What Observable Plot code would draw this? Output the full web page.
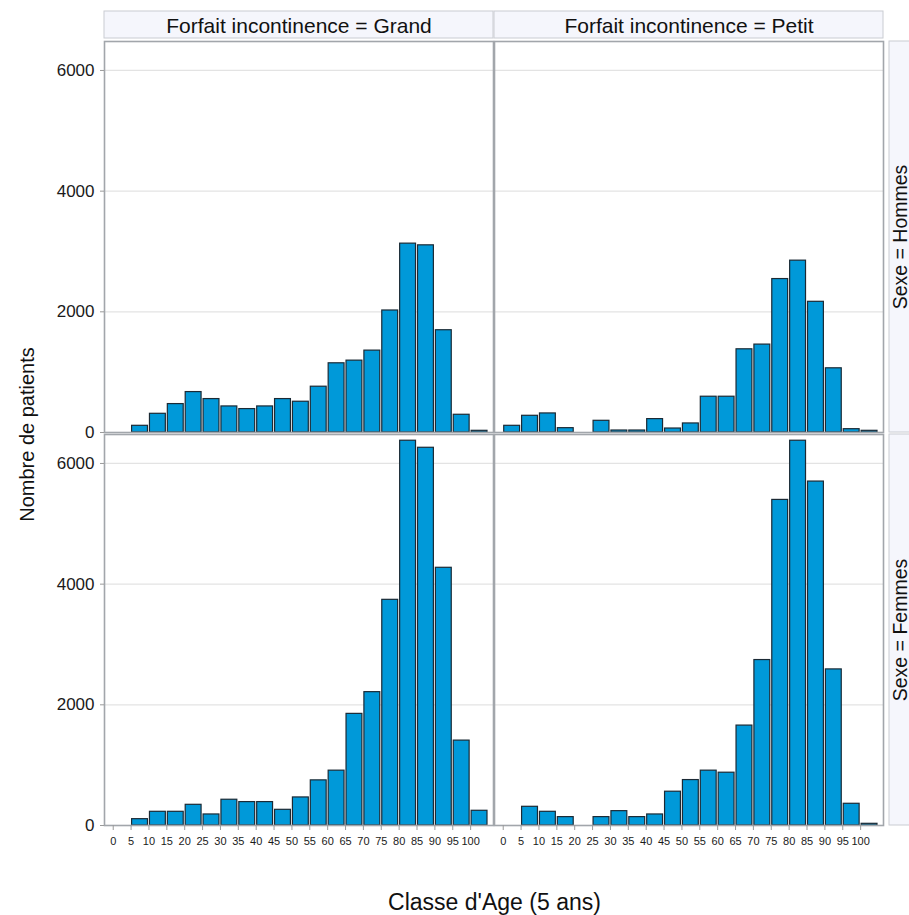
<!DOCTYPE html>
<html>
<head>
<meta charset="utf-8">
<script src="https://cdn.jsdelivr.net/npm/d3@7"></script>
<script src="https://cdn.jsdelivr.net/npm/@observablehq/plot@0.6"></script>
<style>
  html, body { margin: 0; padding: 0; background: #fff; overflow: hidden; }
  #chart svg { display: block; overflow: hidden; }
</style>
</head>
<body>
<div id="chart"></div>
<script>
// ---- Data ----
const ages = [0, 5, 10, 15, 20, 25, 30, 35, 40, 45, 50, 55, 60, 65, 70, 75, 80, 85, 90, 95, 100];
const forfaits = ["Grand", "Petit"];
const sexes = ["Hommes", "Femmes"];
const grandHommes = [0, 111, 310, 471, 670, 554, 432, 388, 432, 554, 510, 759, 1147, 1191, 1357, 2022, 3130, 3102, 1695, 294, 28];
const petitHommes = [111, 277, 316, 72, 0, 194, 33, 33, 222, 66, 150, 593, 593, 1379, 1457, 2543, 2848, 2166, 1064, 55, 28];
const grandFemmes = [0, 105, 227, 227, 343, 183, 427, 388, 388, 260, 465, 748, 909, 1850, 2210, 3740, 6377, 6260, 4271, 1407, 244];
const petitFemmes = [0, 310, 227, 139, 0, 139, 238, 139, 183, 560, 753, 909, 875, 1656, 2742, 5396, 6377, 5700, 2587, 360, 28];
const yTicks = [0, 2000, 4000, 6000];
const xTicks = ages;
const yLabel = "Nombre de patients";
const xLabel = "Classe d'Age (5 ans)";
const colPrefix = "Forfait incontinence = ";
const rowPrefix = "Sexe = ";

// ---- Tidy table ----
const series = [
  {forfait: "Grand", sexe: "Hommes", values: grandHommes},
  {forfait: "Petit", sexe: "Hommes", values: petitHommes},
  {forfait: "Grand", sexe: "Femmes", values: grandFemmes},
  {forfait: "Petit", sexe: "Femmes", values: petitFemmes}
];
const data = series.flatMap(s => ages.map((a, i) => ({forfait: s.forfait, sexe: s.sexe, age: a, n: s.values[i]})))
  .filter(d => d.n > 0);

const headerData = forfaits.map(f => ({forfait: f, sexe: sexes[0]}));
const rowData = sexes.map(s => ({forfait: forfaits[forfaits.length - 1], sexe: s}));
const yLabData = [{forfait: forfaits[0], sexe: sexes[0]}];
const xLabData = [{forfait: forfaits[0], sexe: sexes[sexes.length - 1]}];

const W = 909, H = 915;
const mTop = 40, mBottom = 89, mLeft = 104, mRight = 26;
const panelH = 392;
const font = "'Liberation Sans', Arial, sans-serif";

const chart = Plot.plot({
  width: W,
  height: H,
  marginTop: mTop,
  marginBottom: mBottom,
  marginLeft: mLeft,
  marginRight: mRight,
  style: {fontFamily: font, background: "#fff", color: "#1a1a1a"},
  fx: {domain: forfaits, paddingInner: 0.003, paddingOuter: 0, axis: null},
  fy: {domain: sexes, paddingInner: 0.005, paddingOuter: 0, axis: null},
  x: {domain: [-2.44, 106.4]},
  y: {domain: [0, 6480]},
  marks: [
    // column header strips
    Plot.rect(headerData, {fx: "forfait", fy: "sexe", insetTop: -30, insetBottom: panelH + 2,
      fill: "#f5f6fc", stroke: "#c9ccd2", strokeWidth: 1}),
    // row header strips
    Plot.rect(rowData, {fx: "forfait", fy: "sexe", insetLeft: 395, insetRight: -60,
      fill: "#f5f6fc", stroke: "#c9ccd2", strokeWidth: 1}),
    Plot.gridY({ticks: yTicks.filter(t => t > 0), stroke: "#e3e3e3", strokeOpacity: 1, strokeWidth: 1.2}),
    Plot.rectY(data, {
      x1: "age", x2: d => d.age + 5, y: "n", fx: "forfait", fy: "sexe",
      fill: "#0099d9", stroke: "#1b2a35", strokeWidth: 1.2, insetLeft: 1, insetRight: 1
    }),
    Plot.frame({stroke: "#a2a6ab", strokeWidth: 1.6}),
    Plot.axisY({ticks: yTicks, tickSize: 4, tickPadding: 6, fontSize: 17, label: null,
      tickFormat: d => String(d), stroke: "#9a9a9a", fill: "#1a1a1a"}),
    Plot.axisX({ticks: xTicks, tickSize: 5, tickPadding: 7, fontSize: 11, label: null,
      tickFormat: d => String(d), stroke: "#9a9a9a", fill: "#1a1a1a"}),
    // header texts
    Plot.text(headerData, {fx: "forfait", fy: "sexe", text: d => colPrefix + d.forfait,
      frameAnchor: "top", lineAnchor: "middle", textAnchor: "middle", dy: -15, fontSize: 21, fill: "#111"}),
    Plot.text(rowData, {fx: "forfait", fy: "sexe", text: d => rowPrefix + d.sexe,
      frameAnchor: "right", lineAnchor: "middle", textAnchor: "middle", dx: 17, rotate: -90, fontSize: 19.5, fill: "#111"}),
    // axis titles
    Plot.text(yLabData, {fx: "forfait", fy: "sexe", text: () => yLabel,
      frameAnchor: "bottom-left", lineAnchor: "middle", textAnchor: "middle", dx: -77, dy: 2, rotate: -90, fontSize: 20, fill: "#111"}),
    Plot.text(xLabData, {fx: "forfait", fy: "sexe", text: () => xLabel,
      frameAnchor: "bottom-right", lineAnchor: "middle", textAnchor: "middle", dx: 1, dy: 77, fontSize: 23, fill: "#111"})
  ]
});
document.getElementById("chart").appendChild(chart);
</script>
</body>
</html>
